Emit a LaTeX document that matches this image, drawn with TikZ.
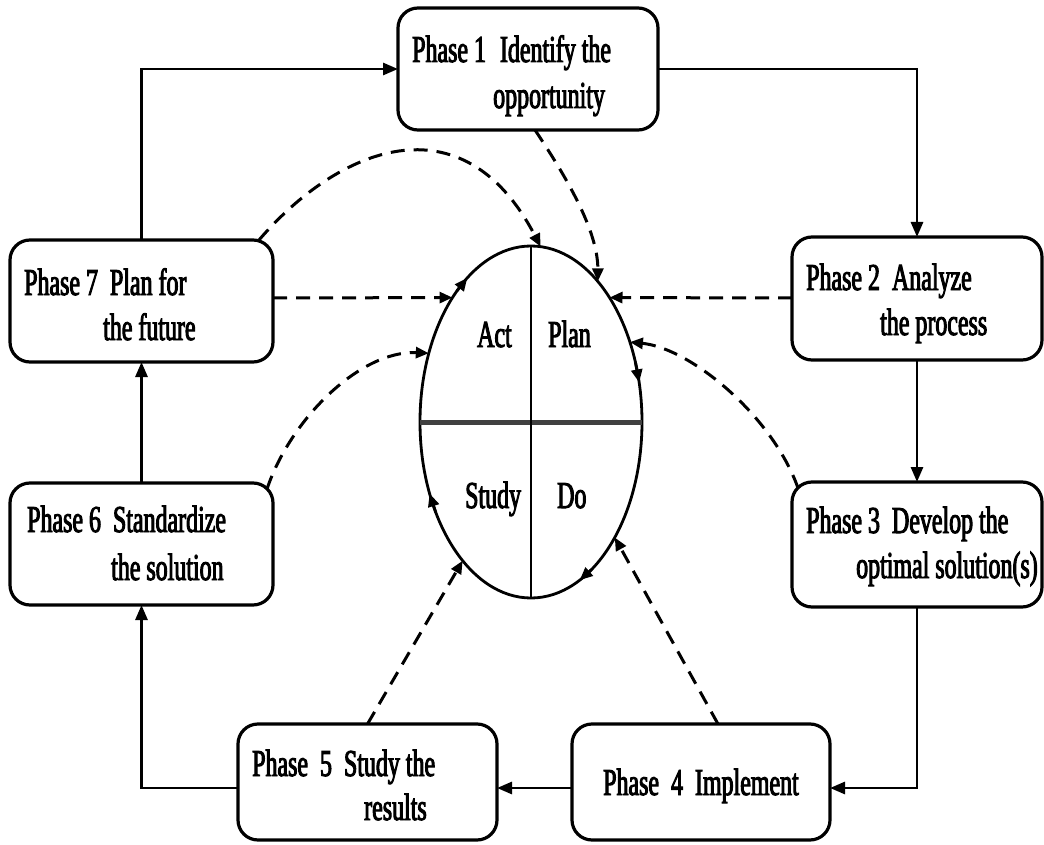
\documentclass[tikz,border=0pt]{standalone}
\usepackage{fontspec}
\setmainfont[FakeStretch=0.63,FakeBold=2.5]{Liberation Serif}
\usetikzlibrary{arrows.meta,calc,shapes.geometric}

\begin{document}
\begin{tikzpicture}[x=1pt,y=-1pt,
  phasebox/.style={draw, line width=3.2pt, rounded corners=20pt, inner sep=0pt, outer sep=0pt},
  lbl/.style={anchor=base west, inner sep=0pt, font=\fontsize{38}{40}\selectfont},
  flow/.style={line width=2.8pt, -{Triangle[length=15pt,width=12pt]}},
  feed/.style={line width=3pt, dash pattern=on 14pt off 9pt, -{Triangle[length=13pt,width=11pt]}},
  cyctip/.style={line width=2.8pt, -{Triangle[length=13pt,width=11pt]}}]

\useasboundingbox (0,0) rectangle (1044,845);

% phase boxes
\node[phasebox, minimum width=260pt, minimum height=122pt] (p1) at (528,69) {};
\node[phasebox, minimum width=250pt, minimum height=123pt] (p2) at (917,298.5) {};
\node[phasebox, minimum width=250pt, minimum height=125pt] (p3) at (917,544.5) {};
\node[phasebox, minimum width=258pt, minimum height=116pt] (p4) at (701,782) {};
\node[phasebox, minimum width=259pt, minimum height=116pt] (p5) at (367.5,782) {};
\node[phasebox, minimum width=263pt, minimum height=122pt] (p6) at (141.5,544) {};
\node[phasebox, minimum width=263pt, minimum height=122pt] (p7) at (141.5,301) {};

% box texts
\node[lbl] (t1a) at (412,62)  {Phase 1\hspace{14pt}Identify the};
\node[lbl] (t1b) at (493,108) {opportunity};
\node[lbl] (t2a) at (806,290) {Phase 2\hspace{12pt}Analyze};
\node[lbl] (t2b) at (880,335) {the process};
\node[lbl] (t3a) at (806,533) {Phase 3\hspace{12pt}Develop the};
\node[lbl] (t3b) at (856,578) {optimal solution(s)};
\node[lbl] (t4a) at (603,795) {Phase\hspace{12pt}4\hspace{12pt}Implement};
\node[lbl] (t5a) at (252,776) {Phase\hspace{12pt}5\hspace{12pt}Study the};
\node[lbl] (t5b) at (364,820) {results};
\node[lbl] (t6a) at (27,532)  {Phase 6\hspace{12pt}Standardize};
\node[lbl] (t6b) at (111,580) {the solution};
\node[lbl] (t7a) at (24,295)  {Phase 7\hspace{12pt}Plan for};
\node[lbl] (t7b) at (103,340) {the future};

% PDSA cycle
\node[draw, ellipse, line width=2.8pt, minimum width=222pt, minimum height=352pt,
      inner sep=0pt, outer sep=0pt] (cyc) at (531,422) {};
\draw[line width=5pt, black!75] (cyc.west) -- (cyc.east);
\draw[line width=2.4pt] (cyc.north) -- (cyc.south);
\node[lbl] (act)   at (477,347) {Act};
\node[lbl] (plan)  at (548,347) {Plan};
\node[lbl] (study) at (465,508) {Study};
\node[lbl] (do)    at (557,508) {Do};

% clockwise direction marks on the cycle
\foreach \a/\n in {-13/ra, 64/rb, 156/rc, 235/rd}{
  \coordinate (\n0) at ($(cyc.center)+({111*cos(\a-7)},{176*sin(\a-7)})$);
  \coordinate (\n1) at ($(cyc.center)+({111*cos(\a)},{176*sin(\a)})$);
  \draw[cyctip] (\n0) -- (\n1);
}

% main sequence of phases
\draw[flow] (p7.north) |- (p1.west);
\draw[flow] (p1.east) -| (p2.north);
\draw[flow] (p2.south) -- (p3.north);
\coordinate (p4in)  at ($(p4.east)+(0,6)$);
\coordinate (p4out) at ($(p4.west)+(0,6)$);
\coordinate (p5in)  at ($(p5.east)+(0,6)$);
\coordinate (p5out) at ($(p5.west)+(0,6)$);
\draw[flow] (p3.south) |- (p4in);
\draw[flow] (p4out) -- (p5in);
\draw[flow] (p5out) -| (p6.south);
\draw[flow] (p6.north) -- (p7.south);

% entry points on the cycle
\coordinate (e1) at ($(cyc.center)+({111*cos(-53)},{176*sin(-53)})$);
\coordinate (e2) at ($(cyc.center)+({111*cos(-85)},{176*sin(-85)})$);
\coordinate (e3) at ($(cyc.center)+({111*cos(-135)},{176*sin(-135)})$);
\coordinate (e4) at ($(cyc.center)+({111*cos(-45)},{176*sin(-45)})$);
\coordinate (e5) at ($(cyc.center)+({111*cos(-27)},{176*sin(-27)})$);
\coordinate (e6) at ($(cyc.center)+({111*cos(-157)},{176*sin(-157)})$);
\coordinate (e7) at ($(cyc.center)+({111*cos(128)},{176*sin(128)})$);
\coordinate (e8) at ($(cyc.center)+({111*cos(41)},{176*sin(41)})$);

% start points on the phase boxes
\coordinate (s1) at ($(p1.south)+(7,0)$);
\coordinate (s2) at ($(p7.north east)+(-14,0)$);
\coordinate (s3) at ($(p7.east)+(0,-3)$);
\coordinate (s4) at ($(p2.west)+(0,-0.5)$);
\coordinate (s5) at ($(p3.north west)+(6,6)$);
\coordinate (s6) at ($(p6.north east)+(-6,6)$);
\coordinate (s8) at ($(p4.north)+(17,0)$);

% links from the phases into the cycle
\draw[feed] (s1) .. controls (565,175) and (598,230) .. (e1);
\draw[feed] (s2) .. controls (338,148) and (462,96) .. (e2);
\draw[feed] (s3) -- (e3);
\draw[feed] (s4) -- (e4);
\draw[feed] (s5) .. controls (772,415) and (690,348) .. (e5);
\draw[feed] (s6) .. controls (290,420) and (360,350) .. (e6);
\draw[feed] (p5.north) -- (e7);
\draw[feed] (s8) -- (e8);

\end{tikzpicture}
\end{document}
